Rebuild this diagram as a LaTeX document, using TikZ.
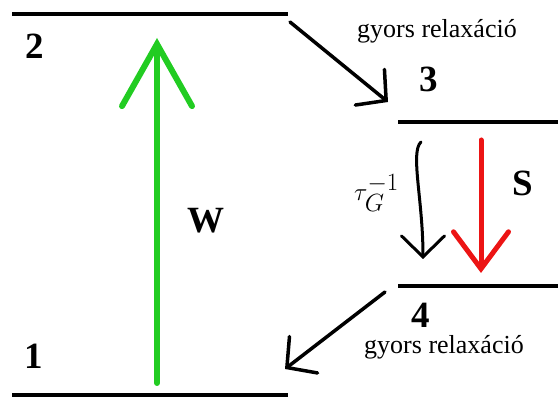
\documentclass[tikz,border=0pt]{standalone}
\usepackage{fontspec}
\setmainfont{Liberation Serif}
\usetikzlibrary{arrows.meta}
\definecolor{pumpgreen}{RGB}{34,204,34}
\definecolor{stimred}{RGB}{236,20,20}
\begin{document}
\begin{tikzpicture}[x=1pt,y=-1pt,
  level/.style={line width=4pt},
  num/.style={font=\fontsize{37}{37}\selectfont\bfseries, anchor=base, inner sep=0pt},
  relax/.style={font=\fontsize{26}{26}\selectfont, anchor=base, inner sep=0pt},
  greenarrow/.style={draw=pumpgreen, line width=6pt, line cap=round,
     -{Straight Barb[length=62pt,width=70pt,line cap=round]}},
  redarrow/.style={draw=stimred, line width=5pt, line cap=round,
     -{Straight Barb[length=37pt,width=55pt,line cap=round]}},
  blackarrow/.style={draw=black, line width=3pt, line cap=round,
     -{Straight Barb[length=21pt,width=43pt,line cap=round]}},
  diagarrow/.style={draw=black, line width=3.5pt, line cap=round,
     -{Straight Barb[length=21pt,width=46pt,line cap=round]}}
]
\useasboundingbox (0,0) rectangle (558,398);
% level end points
\coordinate (L2a) at (12,14);  \coordinate (L2b) at (288,14);
\coordinate (L1a) at (12,395); \coordinate (L1b) at (288,395);
\coordinate (L3a) at (398,122); \coordinate (L3b) at (558,122);
\coordinate (L4a) at (398,286); \coordinate (L4b) at (558,286);
\draw[level] (L2a) -- (L2b);
\draw[level] (L1a) -- (L1b);
\draw[level] (L3a) -- (L3b);
\draw[level] (L4a) -- (L4b);
% arrow end points
\coordinate (Wfrom) at (157,383); \coordinate (Wto) at (157,38);
\coordinate (Sfrom) at (481,140); \coordinate (Sto) at (481,273);
\coordinate (Tfrom) at (421,142); \coordinate (Tto) at (423,259);
\coordinate (Afrom) at (290,22);  \coordinate (Ato) at (388,102);
\coordinate (Bfrom) at (385,292); \coordinate (Bto) at (285,369);
\draw[greenarrow] (Wfrom) -- (Wto);
\draw[redarrow] (Sfrom) -- (Sto);
\draw[blackarrow] (Tfrom) .. controls (410,152) and (423,200) .. (Tto);
\draw[diagarrow] (Afrom) -- (Ato);
\draw[diagarrow] (Bfrom) -- (Bto);
% labels
\node[num] (n2) at (35,59) {2};
\node[num] (n1) at (34,369) {1};
\node[num] (n3) at (429,92) {3};
\node[num] (n4) at (421,328) {4};
\node[num] (lw) at (206,233) {W};
\node[num] (ls) at (523,196) {S};
\node[relax] (r1) at (437,38) {gyors relaxáció};
\node[relax] (r2) at (444,354) {gyors relaxáció};
\node[anchor=base west, inner sep=0pt, font=\fontsize{36}{36}\selectfont] (tau) at (354,201) {$\tau_G^{-1}$};
\end{tikzpicture}
\end{document}
